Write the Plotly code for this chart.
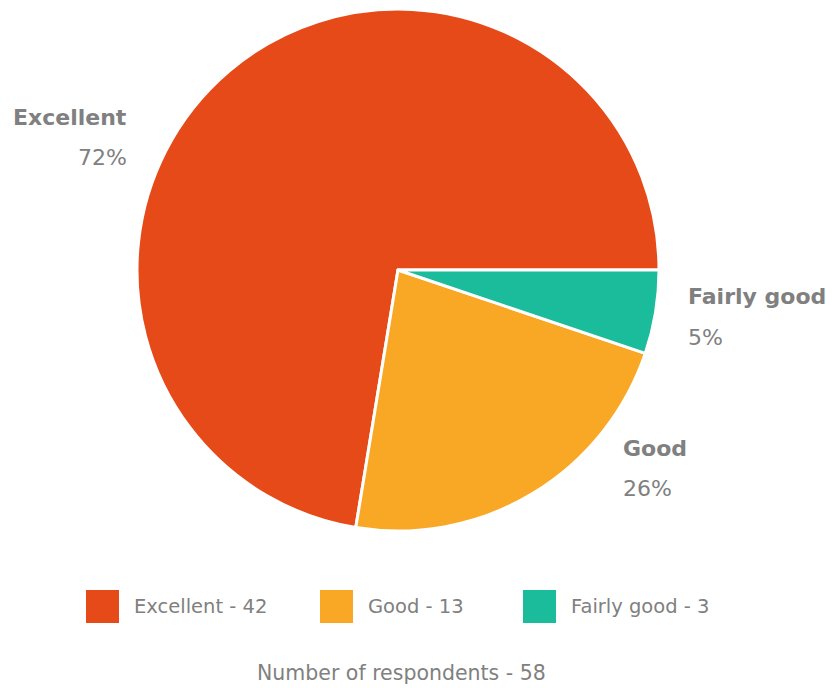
import plotly.graph_objects as go

# Survey answers
categories = ["Excellent", "Good", "Fairly good"]
counts = [42, 13, 3]
pct_labels = ["72%", "26%", "5%"]
total_respondents = 58

colors = ["#E64A19", "#F9A825", "#1ABC9C"]
gray = "#808080"
font_family = "Century Gothic, 'DejaVu Sans', sans-serif"

W, H = 835, 688
cx, cy, r = 398, 270, 261  # pie centre and radius in pixels


def px_x(x):
    return x / W


def px_y(y):
    return 1 - y / H


# Counter-clockwise pies in plotly end the first slice at `rotation`;
# shift it so the first slice starts at 3 o'clock instead.
first_share = counts[0] / sum(counts)
rotation = 90 - 360 * first_share

fig = go.Figure(
    go.Pie(
        labels=categories,
        values=counts,
        sort=False,
        direction="counterclockwise",
        rotation=rotation,
        marker=dict(colors=colors, line=dict(color="white", width=3)),
        textinfo="none",
        showlegend=False,
        domain=dict(x=[px_x(cx - r), px_x(cx + r)], y=[px_y(cy + r), px_y(cy - r)]),
    )
)

# Slice labels: (x, name y, pct y, anchor)
label_pos = {
    "Excellent": (129, 118, 158, "right"),
    "Good": (621, 448, 488, "left"),
    "Fairly good": (686, 296, 337, "left"),
}
annotations = []
for cat, pct in zip(categories, pct_labels):
    x, y1, y2, anchor = label_pos[cat]
    annotations.append(dict(
        x=px_x(x), y=px_y(y1), xref="paper", yref="paper",
        xanchor=anchor, yanchor="middle", showarrow=False,
        text=f"<b>{cat}</b>", font=dict(family=font_family, size=22, color=gray),
    ))
    annotations.append(dict(
        x=px_x(x), y=px_y(y2), xref="paper", yref="paper",
        xanchor=anchor, yanchor="middle", showarrow=False,
        text=pct, font=dict(family=font_family, size=22, color=gray),
    ))

# Legend built from squares and captions
shapes = []
legend_x = [86, 320, 523]
sq = 33
leg_top = 590
for cat, n, col, lx in zip(categories, counts, colors, legend_x):
    shapes.append(dict(
        type="rect", xref="paper", yref="paper",
        x0=px_x(lx), x1=px_x(lx + sq), y0=px_y(leg_top + sq), y1=px_y(leg_top),
        fillcolor=col, line=dict(width=0),
    ))
    annotations.append(dict(
        x=px_x(lx + sq + 13), y=px_y(leg_top + sq / 2), xref="paper", yref="paper",
        xanchor="left", yanchor="middle", showarrow=False,
        text=f"{cat} - {n}", font=dict(family=font_family, size=19.5, color=gray),
    ))

annotations.append(dict(
    x=px_x(401), y=px_y(673), xref="paper", yref="paper",
    xanchor="center", yanchor="middle", showarrow=False,
    text=f"Number of respondents - {total_respondents}",
    font=dict(family=font_family, size=20.5, color=gray),
))

fig.update_layout(
    width=W, height=H,
    margin=dict(l=0, r=0, t=0, b=0),
    paper_bgcolor="white", plot_bgcolor="white",
    annotations=annotations, shapes=shapes,
)

fig.write_html("out.html")
